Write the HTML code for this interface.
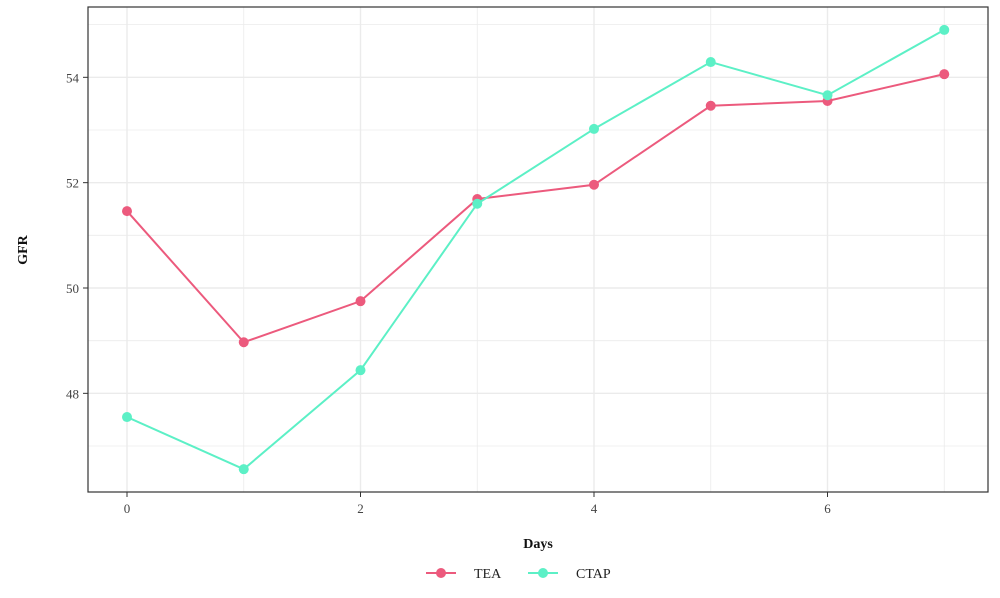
<!DOCTYPE html>
<html><head><meta charset="utf-8"><style>
body{margin:0;background:#fff;font-family:"Liberation Serif",serif;}
</style></head><body>
<svg id="chart" width="1000" height="593" xmlns="http://www.w3.org/2000/svg">
<g id="grid"></g>
<rect x="88" y="7" width="900" height="485" fill="none" stroke="#333" stroke-width="1.2"/>
<g id="ticks"></g>
<g id="series"></g>
<text x="27" y="250" transform="rotate(-90 27 250)" text-anchor="middle" font-size="14" font-weight="bold" fill="#111">GFR</text>
<text x="538" y="548" text-anchor="middle" font-size="14" font-weight="bold" fill="#111">Days</text>
<g>
<g>
<line x1="426" y1="573" x2="456" y2="573" stroke="#ec5a7d" stroke-width="2"/>
<circle cx="441" cy="573" r="5" fill="#ec5a7d"/>
<text x="474" y="578" font-size="14" fill="#222">TEA</text></g>
<g>
<line x1="528" y1="573" x2="558" y2="573" stroke="#5cf0c6" stroke-width="2"/>
<circle cx="543" cy="573" r="5" fill="#5cf0c6"/>
<text x="576" y="578" font-size="14" fill="#222">CTAP</text></g>
</g>
</svg>
<script>
const days=[0,1,2,3,4,5,6,7];
const teaValues=[51.46,48.97,49.75,51.69,51.96,53.46,53.55,54.06];
const ctapValues=[47.55,46.56,48.44,51.6,53.02,54.29,53.66,54.9];
const xTicks=[0,2,4,6];
const yTicks=[48,50,52,54];
const NS="http://www.w3.org/2000/svg";
const xS=d=>127+d*116.75;
const yS=v=>288-(v-50)*52.67;
function mk(tag,attrs,parent){const e=document.createElementNS(NS,tag);for(const k in attrs)e.setAttribute(k,attrs[k]);parent.appendChild(e);return e;}
const grid=document.getElementById('grid'),ticks=document.getElementById('ticks'),series=document.getElementById('series');
for(let v=47;v<=55;v++){const y=yS(v);if(y<7||y>492)continue;
 const l=mk('line',{x1:88,x2:988,y1:y,y2:y,stroke:'#ebebeb','stroke-width':v%2?0.8:1.4},grid);
 
 }
for(let d=0;d<=7;d++){const x=xS(d);
 const l=mk('line',{x1:x,x2:x,y1:7,y2:492,stroke:'#ebebeb','stroke-width':d%2?0.8:1.4},grid);
 
 }
xTicks.forEach(t=>{const x=xS(t);
 mk('line',{x1:x,x2:x,y1:492,y2:497,stroke:'#333'},ticks);
 const tx=mk('text',{x:x,y:513,'text-anchor':'middle','font-size':13,fill:'#444'},ticks);tx.textContent=t;
 
 });
yTicks.forEach(t=>{const y=yS(t);
 mk('line',{x1:83,x2:88,y1:y,y2:y,stroke:'#333'},ticks);
 const tx=mk('text',{x:79,y:y+5,'text-anchor':'end','font-size':13,fill:'#444'},ticks);tx.textContent=t;
 
 });
function draw(vals,color,name){
 const p=mk('polyline',{points:days.map((d,i)=>xS(d)+','+yS(vals[i])).join(' '),fill:'none',stroke:color,'stroke-width':2},series);
 
 
 days.forEach((d,i)=>{const c=mk('circle',{cx:xS(d),cy:yS(vals[i]),r:5,fill:color},series);
 
 });
}
draw(teaValues,'#ec5a7d','tea');
draw(ctapValues,'#5cf0c6','ctap');
</script>
</body></html>
